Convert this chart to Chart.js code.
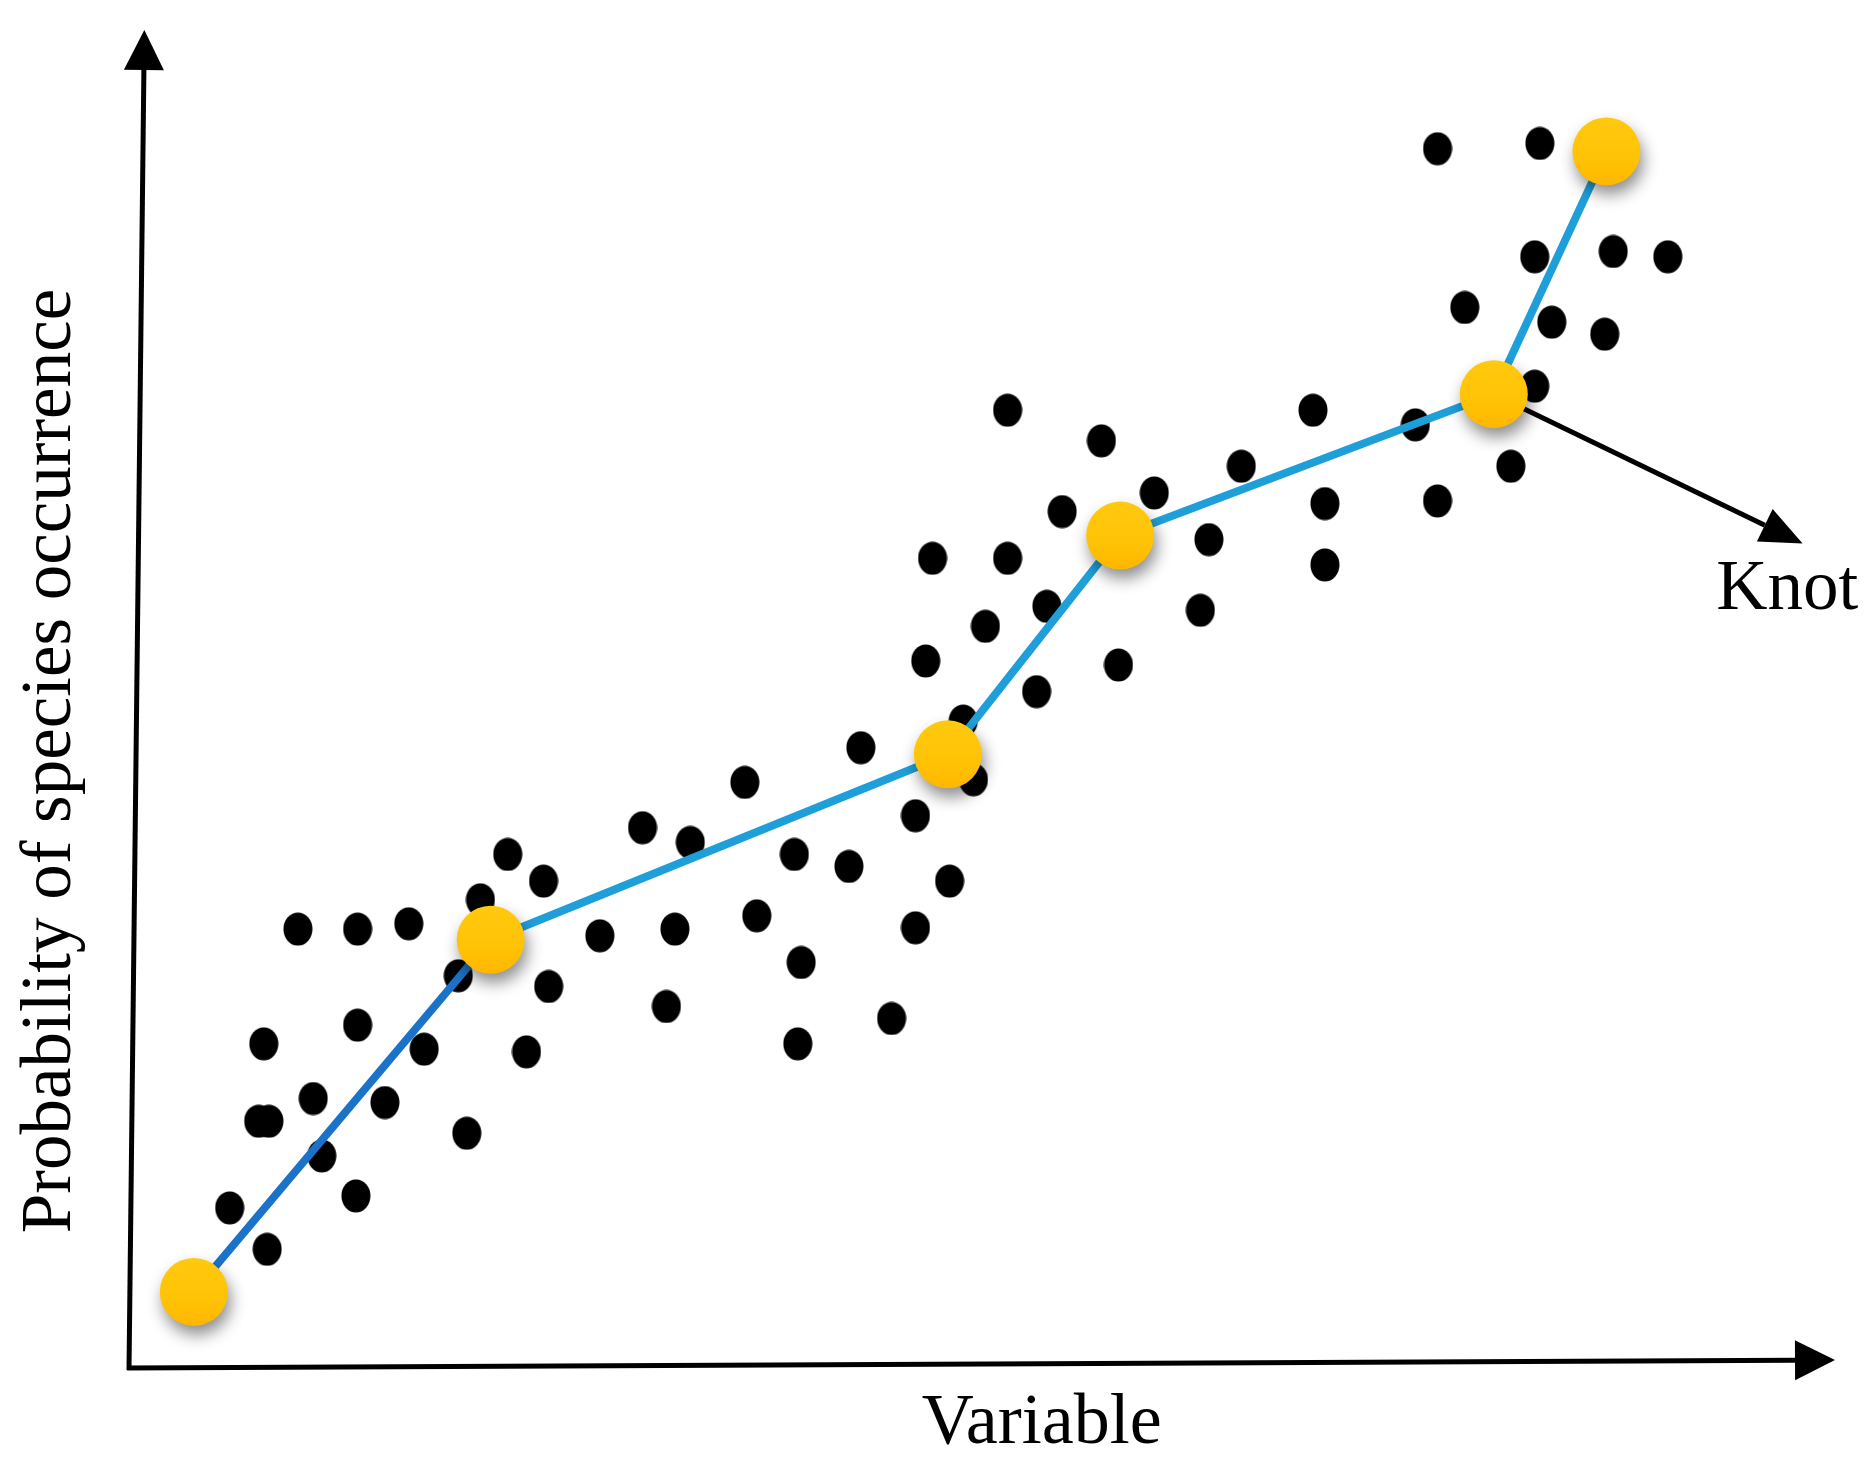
<!DOCTYPE html>
<html>
<head>
<meta charset="utf-8">
<script src="https://cdn.jsdelivr.net/npm/chart.js@4/dist/chart.umd.min.js"></script>
<style>
  body { margin: 0; background: #fff; }
</style>
</head>
<body>
<canvas id="chart" width="1876" height="1469"></canvas>
<script>
// observations (x = variable, y = probability of occurrence, both 0-100 along the axes)
const obsX = [
  9.9, 13.4, 16.4, 20.6, 22.2, 24.3, 19.3, 24.6, 13.4, 7.9, 17.3, 23.3, 10.8, 15.0, 7.6, 8.2, 19.8, 11.3, 13.3, 5.9, 8.1,
  30.1, 32.9, 36.1, 27.6, 32.0, 36.8, 31.5, 39.0, 42.2, 42.9, 39.4, 46.1, 44.7, 39.2, 46.1, 48.1, 46.7, 48.9, 49.5,
  53.2, 50.2, 53.8, 58.0, 62.8, 47.1, 51.5, 54.7, 60.1, 63.3, 51.5, 57.0, 65.2, 70.1, 70.1, 69.4, 75.4, 76.7, 81.0, 82.4,
  76.7, 82.7, 82.4, 87.0, 90.2, 78.3, 83.4, 86.5
];
const obsY = [
  32.9, 32.9, 33.3, 35.1, 38.5, 36.5, 29.4, 28.6, 25.7, 24.3, 23.9, 23.7, 20.2, 19.9, 18.5, 18.5, 17.6, 15.9, 12.9, 12.0, 8.9,
  40.5, 39.4, 43.9, 32.4, 32.9, 33.9, 27.1, 38.5, 37.6, 46.5, 30.4, 33.0, 26.2, 24.3, 41.4, 36.5, 53.0, 48.5, 44.1,
  50.7, 55.6, 57.1, 52.7, 56.8, 60.7, 60.7, 64.2, 65.6, 62.1, 71.8, 69.5, 67.6, 64.8, 60.2, 71.8, 70.7, 65.0, 67.6, 73.6,
  91.4, 91.8, 83.3, 83.7, 83.3, 79.5, 78.4, 77.5
];

// piecewise linear fit, knots
const knotX = [3.8, 21.2, 48.0, 58.1, 80.0, 86.6];
const knotY = [5.7, 32.1, 46.0, 62.4, 73.0, 91.2];

const xTitle = "Variable";
const yTitle = "Probability of species occurrence";
const knotLabel = "Knot";
const knotLabelTip = { x: 98.1, y: 61.8 };
const knotLabelText = { x: 97.2, y: 56.9 };

// axes are hand drawn, a little off square
const yAxisTopX = 0.9;
const xAxisEndY = 0.6;

const serif = '"Liberation Serif", "Times New Roman", serif';

const observations = obsX.map((x, i) => ({ x: x, y: obsY[i] }));
const knots = knotX.map((x, i) => ({ x: x, y: knotY[i] }));

// dots in the figure are a bit taller than wide
const dot = document.createElement("canvas");
dot.width = 30;
dot.height = 34;
const dctx = dot.getContext("2d");
dctx.fillStyle = "#000";
dctx.beginPath();
dctx.ellipse(15, 17, 14.5, 16.5, 0, 0, Math.PI * 2);
dctx.fill();

function arrow(ctx, x0, y0, x1, y1, len, half, width) {
  const ang = Math.atan2(y1 - y0, x1 - x0);
  const bx = x1 - Math.cos(ang) * len;
  const by = y1 - Math.sin(ang) * len;
  ctx.lineWidth = width;
  ctx.beginPath();
  ctx.moveTo(x0, y0);
  ctx.lineTo(bx, by);
  ctx.stroke();
  ctx.beginPath();
  ctx.moveTo(x1, y1);
  ctx.lineTo(bx + Math.sin(ang) * half, by - Math.cos(ang) * half);
  ctx.lineTo(bx - Math.sin(ang) * half, by + Math.cos(ang) * half);
  ctx.closePath();
  ctx.fill();
}

const sketchAxes = {
  id: "sketchAxes",
  beforeDatasetsDraw(chart) {
    const { ctx, scales } = chart;
    const px = (v) => scales.x.getPixelForValue(v);
    const py = (v) => scales.y.getPixelForValue(v);
    ctx.save();
    ctx.strokeStyle = "#000";
    ctx.fillStyle = "#000";
    ctx.lineCap = "butt";
    // y axis
    arrow(ctx, px(0), py(0) + 2, px(yAxisTopX), py(100) - 4, 40, 20, 5);
    // x axis
    arrow(ctx, px(0) - 2, py(0), px(100), py(xAxisEndY), 40, 20, 5);
    // pointer to a knot
    arrow(ctx, px(knotX[4]), py(knotY[4]), px(knotLabelTip.x), py(knotLabelTip.y), 42, 18, 5);

    ctx.textAlign = "center";
    ctx.textBaseline = "alphabetic";
    ctx.font = "71px " + serif;
    ctx.fillText(knotLabel, px(knotLabelText.x), py(knotLabelText.y));
    ctx.font = "72px " + serif;
    ctx.fillText(xTitle, px(53.5), 1443);

    ctx.font = "71px " + serif;
    ctx.translate(70, (py(0) + py(100)) / 2 + 60);
    ctx.rotate(-Math.PI / 2);
    ctx.fillText(yTitle, 0, 0);
    ctx.restore();
  },
  beforeDatasetDraw(chart, args) {
    if (args.index !== 0) return;
    const ctx = chart.ctx;
    ctx.save();
    ctx.shadowColor = "rgba(0, 0, 0, 0.45)";
    ctx.shadowBlur = 16;
    ctx.shadowOffsetX = 3;
    ctx.shadowOffsetY = 9;
  },
  afterDatasetDraw(chart, args) {
    if (args.index !== 0) return;
    chart.ctx.restore();
  }
};

const ctx = document.getElementById("chart").getContext("2d");

new Chart(ctx, {
  type: "scatter",
  data: {
    datasets: [
      {
        label: "Knots",
        data: knots,
        pointRadius: 34,
        pointBorderWidth: 0,
        pointBackgroundColor: function (c) {
          const chart = c.chart;
          if (!chart.chartArea || c.type !== "data") return "#ffc208";
          const y = chart.scales.y.getPixelForValue(c.raw.y);
          const g = chart.ctx.createLinearGradient(0, y - 34, 0, y + 34);
          g.addColorStop(0, "#ffc90f");
          g.addColorStop(0.6, "#ffc305");
          g.addColorStop(1, "#ffb600");
          return g;
        },
        clip: false
      },
      {
        label: "Fit",
        data: knots,
        showLine: true,
        pointRadius: 0,
        borderWidth: 8,
        borderColor: "#1f9fd9",
        segment: {
          borderColor: (s) => (s.p0DataIndex === 0 ? "#1a73c8" : "#1f9fd9")
        },
        clip: false
      },
      {
        label: "Observations",
        data: observations,
        pointStyle: dot,
        pointRadius: 15,
        clip: false
      }
    ]
  },
  options: {
    responsive: false,
    animation: false,
    events: [],
    layout: {
      padding: { left: 129, right: 41, top: 29, bottom: 101 }
    },
    scales: {
      x: { type: "linear", min: 0, max: 100, display: false },
      y: { type: "linear", min: 0, max: 100, display: false }
    },
    plugins: {
      legend: { display: false },
      tooltip: { enabled: false }
    }
  },
  plugins: [sketchAxes]
});
</script>
</body>
</html>
